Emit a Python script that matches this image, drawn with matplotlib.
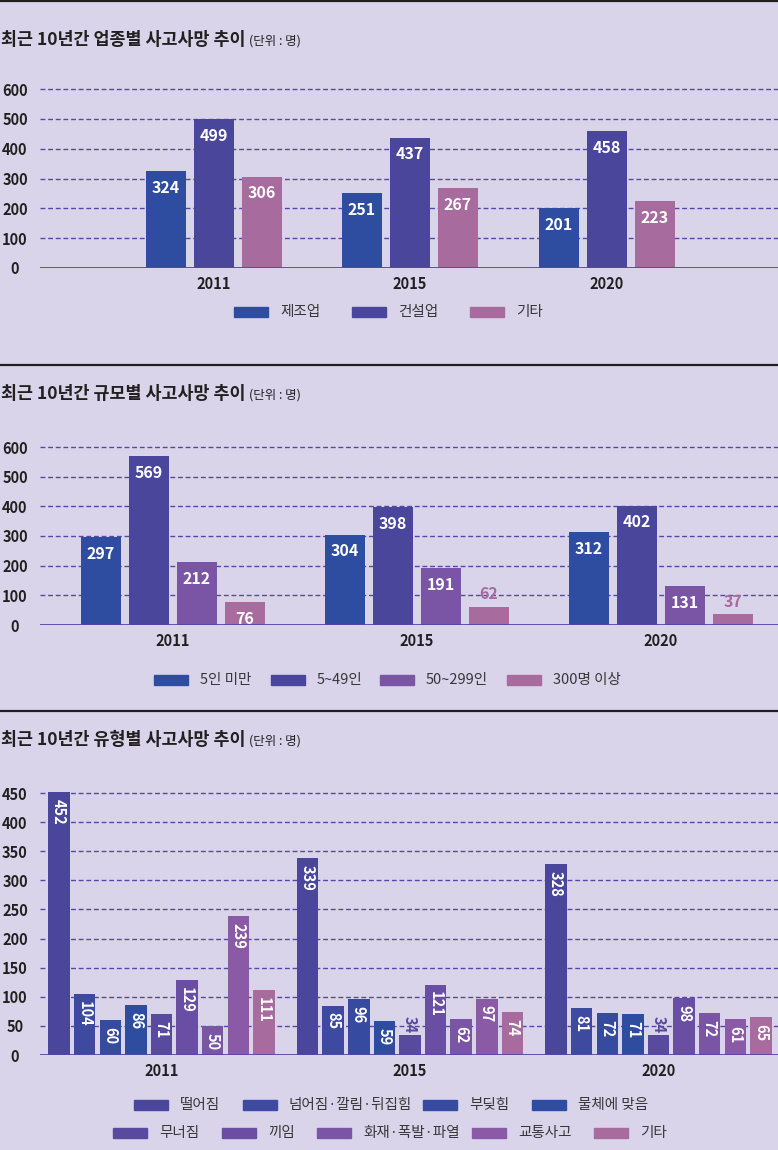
import numpy as np
import matplotlib
matplotlib.use('Agg')
import matplotlib.pyplot as plt
from matplotlib.patches import Rectangle

plt.rcParams['font.family'] = ['Noto Sans CJK KR', 'DejaVu Sans']

# ---- data ----
years = ['2011', '2015', '2020']

industry_names = ['제조업', '건설업', '기타']
industry_vals = [[324, 251, 201], [499, 437, 458], [306, 267, 223]]

size_names = ['5인 미만', '5~49인', '50~299인', '300명 이상']
size_vals = [[297, 304, 312], [569, 398, 402], [212, 191, 131], [76, 62, 37]]

type_names = ['떨어짐', '넘어짐·깔림·뒤집힘', '부딪힘', '물체에 맞음', '무너짐',
              '끼임', '화재·폭발·파열', '교통사고', '기타']
type_vals = [[452, 339, 328], [104, 85, 81], [60, 96, 72], [86, 59, 71], [71, 34, 34],
             [129, 121, 98], [50, 62, 72], [239, 97, 61], [111, 74, 65]]

titles = ['최근 10년간 업종별 사고사망 추이', '최근 10년간 규모별 사고사망 추이',
          '최근 10년간 유형별 사고사망 추이']
unit = '(단위 : 명)'

# ---- style ----
BG = '#dad4ea'
GRID = '#5646a8'
DARK = '#231f20'
c_ind = ['#2f4da0', '#4a469c', '#a86b9e']
c_size = ['#2f4da0', '#4a469c', '#7b55a5', '#a86b9e']
c_type = ['#4a469c', '#3e4a9f', '#364ba0', '#2f4da0', '#574a9f',
          '#694ea4', '#7a54a5', '#8a5aa6', '#a86b9e']

W, H = 778, 1150
fig = plt.figure(figsize=(W / 100, H / 100), dpi=100, facecolor=BG)


def fx(px):
    return px / W


def fy(py):
    return 1 - py / H


def panel(names, vals, colors, yticks, zero_px, top_px, centers, step_px, width_px,
          rotate, small_thr, lab_size):
    ymax = yticks[-1]
    scale = (zero_px - top_px) / ymax
    ytop = ymax * 1.07
    ax_top = zero_px - ytop * scale
    spacing = (centers[-1] - centers[0]) / (len(centers) - 1)
    x0 = (40 - centers[0]) / spacing
    x1 = (W - centers[0]) / spacing
    ax = fig.add_axes([fx(40), fy(zero_px), fx(W - 40), (zero_px - ax_top) / H])
    ax.set_facecolor('none')
    ax.set_xlim(x0, x1)
    ax.set_ylim(0, ytop)
    for s in ax.spines.values():
        s.set_visible(False)
    for t in yticks[1:]:
        ax.axhline(t, color=GRID, lw=1, ls=(0, (3.5, 2)), zorder=1)
    ax.axhline(0, color=GRID, lw=1.3, zorder=3)

    n = len(names)
    step = step_px / spacing
    bw = width_px / spacing
    x = np.arange(len(years))
    for j in range(n):
        xs = x + (j - (n - 1) / 2) * step
        ax.bar(xs, vals[j], width=bw, color=colors[j], zorder=2)
        for xi, v in zip(xs, vals[j]):
            if rotate:
                if v < small_thr:
                    ax.annotate(str(v), (xi, v), xytext=(0, 1.5), textcoords='offset points',
                                ha='center', va='bottom', rotation=270, color=colors[j],
                                fontsize=lab_size, fontweight='bold', zorder=4)
                else:
                    ax.annotate(str(v), (xi, v), xytext=(0, -5), textcoords='offset points',
                                ha='center', va='top', rotation=270, color='white',
                                fontsize=lab_size, fontweight='bold', zorder=4)
            else:
                if v < small_thr:
                    ax.annotate(str(v), (xi, v), xytext=(0, 3), textcoords='offset points',
                                ha='center', va='bottom', color=colors[j],
                                fontsize=lab_size, fontweight='bold', zorder=4)
                else:
                    ax.annotate(str(v), (xi, v), xytext=(0, -12), textcoords='offset points',
                                ha='center', va='center', color='white',
                                fontsize=lab_size, fontweight='bold', zorder=4)

    ax.set_yticks(yticks)
    ax.set_yticklabels([str(t) for t in yticks])
    ax.tick_params(axis='y', length=0, pad=18, labelsize=10.5, labelcolor=DARK)
    for lbl in ax.get_yticklabels():
        lbl.set_ha('center')
        lbl.set_fontweight('bold')
    ax.set_xticks(x)
    ax.set_xticklabels(years)
    ax.tick_params(axis='x', length=0, pad=6, labelsize=10.5, labelcolor=DARK)
    for lbl in ax.get_xticklabels():
        lbl.set_fontweight('bold')
    return ax


def legend(items, colors, xs, y_px):
    for (name, col, xp) in zip(items, colors, xs):
        fig.patches.append(Rectangle((fx(xp), fy(y_px + 5)), fx(34), 10 / H,
                                     transform=fig.transFigure, color=col))
        fig.text(fx(xp + 46), fy(y_px), name, ha='left', va='center',
                 fontsize=10.5, color='#3a3538')


def title(txt, y_px):
    t = fig.text(fx(1), fy(y_px), txt, ha='left', va='center', fontsize=12.5,
                 fontweight='bold', color=DARK)
    fig.canvas.draw()
    bb = t.get_window_extent()
    fig.text((bb.x1 + 3) / W, fy(y_px + 1), unit, ha='left', va='center',
             fontsize=9, color=DARK)


# separators
for yp in [1, 365, 711]:
    fig.add_artist(plt.Line2D([0, 1], [fy(yp), fy(yp)], transform=fig.transFigure,
                              color=DARK, lw=1.6))

# panel 1
title(titles[0], 40)
panel(industry_names, industry_vals, c_ind, [0, 100, 200, 300, 400, 500, 600],
      268, 89, [213.5, 410, 606.5], 48, 40, False, 0, 11.5)
legend(industry_names, c_ind, [234, 352, 470], 312)

# panel 2
title(titles[1], 394)
panel(size_names, size_vals, c_size, [0, 100, 200, 300, 400, 500, 600],
      625, 447, [173, 416.5, 661], 48, 40, False, 70, 11.5)
legend(size_names, c_size, [154, 271, 380, 507], 680)

# panel 3
title(titles[2], 740)
panel(type_names, type_vals, c_type, list(range(0, 451, 50)),
      1055, 793, [161.5, 410, 658.5], 25.6, 21.5, True, 40, 10.5)
legend(type_names[:4], c_type[:4], [134, 243, 423, 532], 1105)
legend(type_names[4:], c_type[4:], [113, 222, 317, 472, 594], 1133)

fig.savefig('out.png', dpi=100, facecolor=BG)
